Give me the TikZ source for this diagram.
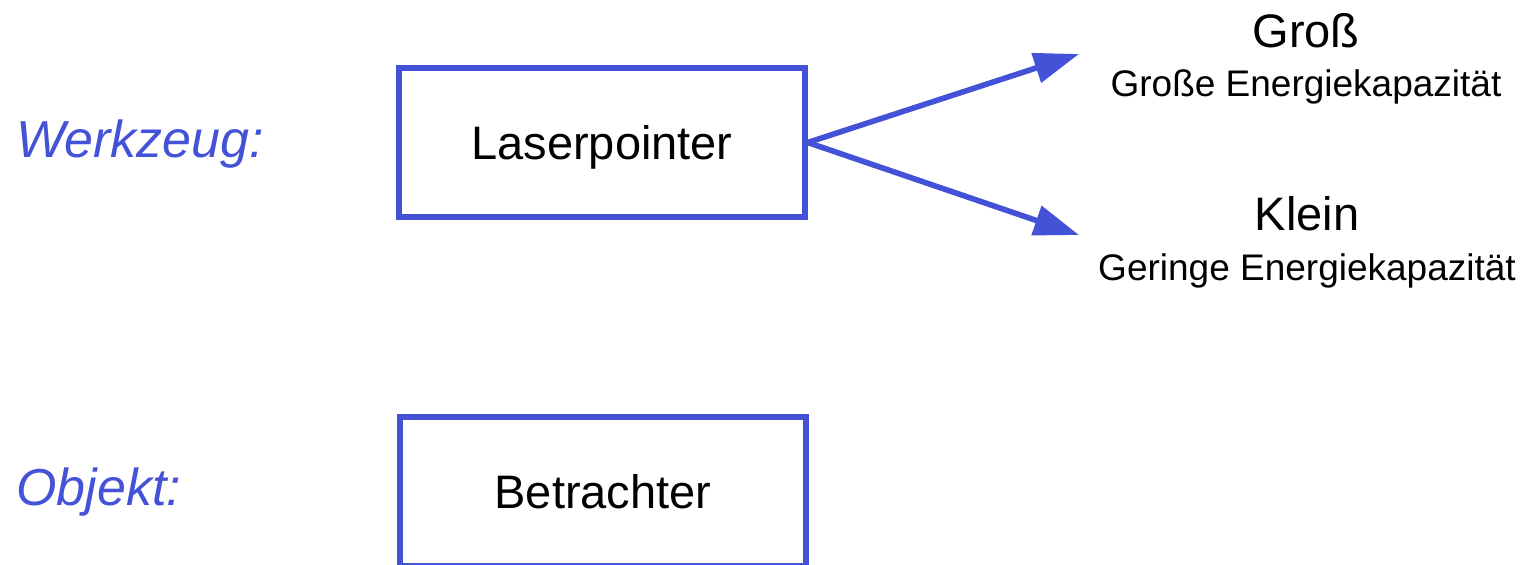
\documentclass[tikz,border=0pt]{standalone}
\usepackage{fontspec}
\setmainfont{Liberation Sans}
\usetikzlibrary{positioning}
\usetikzlibrary{arrows.meta}
\definecolor{blue}{RGB}{68,82,216}

\begin{document}
\begin{tikzpicture}[x=50pt, y=50pt]
	\tikzstyle{box}=[draw=blue, line width=2.8pt, minimum width=203pt, minimum height=74.7pt, inner sep=0pt, text depth=0pt, font=\fontsize{23.5}{28}\selectfont]
	\tikzstyle{role}=[anchor=base west, inner sep=0pt, text=blue, font=\fontsize{26}{31}\selectfont\itshape]
	\tikzstyle{size}=[anchor=base, inner sep=0pt, font=\fontsize{23.5}{28}\selectfont]
	\tikzstyle{note}=[anchor=base, inner sep=0pt, font=\fontsize{18.5}{22}\selectfont]
	\tikzstyle{pointer}=[draw=blue, line width=2.8pt, -{Triangle[length=22.5pt, width=15pt]}]
	
	\useasboundingbox (0,0) rectangle (15.26,5.64);
	\clip (0,0) rectangle (15.26,5.64);  % lower box runs off the bottom
	
	\node at (0.16, 4.07) [role] (werkzeug) {Werkzeug:};
	\node at (0.16, 0.59) [role] (objekt) {Objekt:};
	
	\node at (6.02, 4.215) [box] (laser) {Laserpointer};
	\node at (6.03, 0.725) [box] (betrachter) {Betrachter};
	
	\node at (13.06, 5.17) [size] (gross) {Groß};
	\node at (13.06, 4.68) [note] (grossnote) {Große Energiekapazität};
	\node at (13.07, 3.34) [size] (klein) {Klein};
	\node at (13.07, 2.84) [note] (kleinnote) {Geringe Energiekapazität};
	
	\coordinate (grosstip) at (10.79, 5.10);
	\coordinate (kleintip) at (10.79, 3.29);
	
	\draw [pointer]  (laser.east) to (grosstip);
	\draw [pointer]  (laser.east) to (kleintip);
\end{tikzpicture}
\end{document}
